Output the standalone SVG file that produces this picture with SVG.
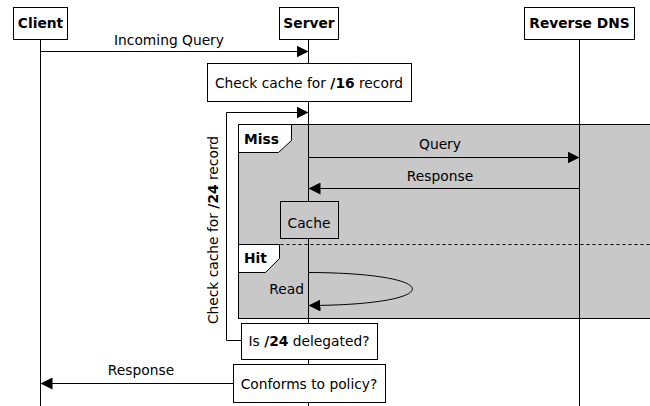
<svg xmlns="http://www.w3.org/2000/svg" width="650" height="406" viewBox="0 0 650 406">
  <defs>
    <marker id="ah" viewBox="0 0 12 12" refX="12" refY="6" markerWidth="12" markerHeight="12" orient="auto" markerUnits="userSpaceOnUse">
      <path d="M0,0 L12,6 L0,12 z" fill="#000"/>
    </marker>
    <style>
      text { font-family: "DejaVu Sans", "Liberation Sans", sans-serif; font-size: 13.8px; fill: #000; }
      .b { font-weight: bold; }
      .box { fill: #fff; stroke: #000; stroke-width: 1; }
      .gbox { fill: #c8c8c8; stroke: #000; stroke-width: 1; }
      .life { stroke: #000; stroke-width: 1; fill: none; }
      .msg { stroke: #000; stroke-width: 1; fill: none; marker-end: url(#ah); }
      .ln { stroke: #000; stroke-width: 1; fill: none; }
      .mid { text-anchor: middle; }
    </style>
  </defs>
  <rect width="650" height="406" fill="#fff"/>

  <g id="fragment">
    <rect class="gbox" x="238.5" y="124.5" width="412" height="194"/>
    <line x1="238.5" y1="244.5" x2="650" y2="244.5" stroke="#000" stroke-width="1" stroke-dasharray="3,3"/>
    <path class="box" d="M238.5,124.5 H291.5 V140.5 L278.5,152.5 H238.5 Z"/>
    <text class="b" x="244" y="144">Miss</text>
    <path class="box" d="M238.5,244.5 H279.5 V258.5 L265.5,272.5 H238.5 Z"/>
    <text class="b" x="244" y="263">Hit</text>
  </g>

  <g id="lifelines">
    <line class="life" x1="40.5" y1="39" x2="40.5" y2="406"/>
    <line class="life" x1="308.5" y1="39" x2="308.5" y2="406"/>
    <line class="life" x1="579.5" y1="39" x2="579.5" y2="406"/>
  </g>

  <g id="client">
    <rect class="box" x="13.5" y="7.5" width="54" height="32"/>
    <text class="b mid" x="40.5" y="28">Client</text>
  </g>
  <g id="server">
    <rect class="box" x="279.5" y="7.5" width="59" height="32"/>
    <text class="b mid" x="309" y="28">Server</text>
  </g>
  <g id="reverse-dns">
    <rect class="box" x="524.5" y="7.5" width="110" height="32"/>
    <text class="b mid" x="579.5" y="28">Reverse DNS</text>
  </g>

  <g id="check16">
    <rect class="box" x="207.5" y="63.5" width="204" height="38"/>
    <text class="mid" x="309" y="88">Check cache for <tspan class="b">/16</tspan> record</text>
  </g>

  <g id="connectors">
    <line class="msg" x1="40.5" y1="51.5" x2="308.5" y2="51.5"/>
    <text class="mid" x="169" y="45">Incoming Query</text>
    <polyline class="ln" points="241,340.5 226.5,340.5 226.5,112.5 296,112.5"/>
    <line class="msg" x1="296" y1="112.5" x2="308.5" y2="112.5"/>
    <line class="msg" x1="308.5" y1="157.5" x2="579.5" y2="157.5"/>
    <text class="mid" x="440" y="149">Query</text>
    <line class="msg" x1="579.5" y1="188.5" x2="308.5" y2="188.5"/>
    <text class="mid" x="440" y="181">Response</text>
    <path class="msg" d="M308.5,272.5 C447,273 447,305 308.5,305.5"/>
    <text x="304" y="294" text-anchor="end">Read</text>
    <line class="msg" x1="233" y1="383.5" x2="40.5" y2="383.5"/>
    <text class="mid" x="141" y="375">Response</text>
    <text class="mid" transform="translate(218,230) rotate(-90)">Check cache for <tspan class="b">/24</tspan> record</text>
  </g>

  <g id="cache">
    <rect class="gbox" x="280.5" y="201.5" width="58" height="37"/>
    <text class="mid" x="309" y="228">Cache</text>
  </g>

  <g id="is24">
    <rect class="box" x="241.5" y="323.5" width="136" height="36"/>
    <text class="mid" x="309" y="346">Is <tspan class="b">/24</tspan> delegated?</text>
  </g>

  <g id="conforms">
    <rect class="box" x="233.5" y="364.5" width="152" height="38"/>
    <text class="mid" x="309" y="389">Conforms to policy?</text>
  </g>
</svg>
